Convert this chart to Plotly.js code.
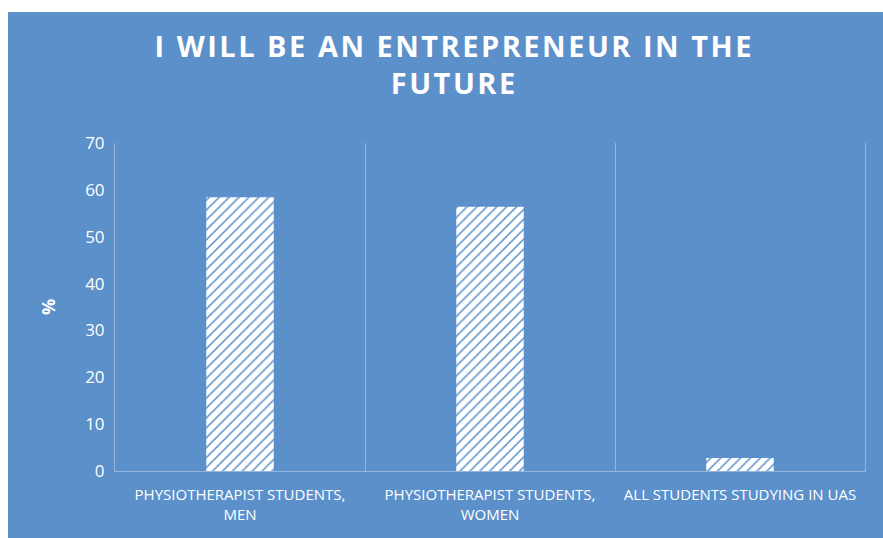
<!DOCTYPE html>
<html>
<head>
<meta charset="utf-8">
<script src="https://cdn.plot.ly/plotly-3.0.1.min.js"></script>
<style>
  html, body { margin: 0; padding: 0; background: #ffffff; }
  #chart { position: absolute; left: 8px; top: 12px; width: 875px; height: 526px; }
  .gtitle { letter-spacing: 2.5px; }
</style>
</head>
<body>
<div id="chart"></div>
<script>
const categories = [
  "PHYSIOTHERAPIST STUDENTS,<br>MEN",
  "PHYSIOTHERAPIST STUDENTS,<br>WOMEN",
  "ALL STUDENTS STUDYING IN UAS"
];
const values = [58.4, 56.4, 2.8];
const yTicks = [0, 10, 20, 30, 40, 50, 60, 70];

const bg = "#5B90CB";
const gridCol = "rgba(255,255,255,0.35)";

const trace = {
  type: "bar",
  x: categories,
  y: values,
  marker: {
    color: "#ffffff",
    line: { width: 0 },
    pattern: { shape: "/", fgcolor: bg, bgcolor: "#ffffff", size: 7, solidity: 0.22 }
  },
  hoverinfo: "none"
};

const layout = {
  width: 875,
  height: 526,
  paper_bgcolor: bg,
  plot_bgcolor: bg,
  margin: { l: 107, r: 18, t: 131, b: 67 },
  bargap: 0.73,
  showlegend: false,
  font: { family: "Open Sans, sans-serif", color: "#ffffff" },
  title: {
    text: "<b>I WILL BE AN ENTREPRENEUR IN THE<br>FUTURE</b>",
    font: { family: "Open Sans, sans-serif", size: 29, color: "#ffffff" },
    x: 0.51,
    xanchor: "center",
    y: 0.915,
    yanchor: "top"
  },
  xaxis: {
    type: "category",
    tickson: "boundaries",
    showgrid: true,
    gridcolor: gridCol,
    gridwidth: 1,
    showline: true,
    linecolor: gridCol,
    ticks: "",
    ticklabelstandoff: 10,
    tickfont: { size: 15, color: "#ffffff" },
    zeroline: false
  },
  yaxis: {
    range: [0, 70],
    tickvals: yTicks,
    showgrid: false,
    zeroline: false,
    showline: true,
    mirror: true,
    linecolor: gridCol,
    ticks: "",
    ticklen: 0,
    ticklabelstandoff: 6,
    tickfont: { size: 17, color: "#ffffff" },
    title: { text: "<b>%</b>", font: { size: 18, color: "#ffffff" }, standoff: 24 }
  }
};

Plotly.newPlot("chart", [trace], layout, { displayModeBar: false, staticPlot: true });
</script>
</body>
</html>
